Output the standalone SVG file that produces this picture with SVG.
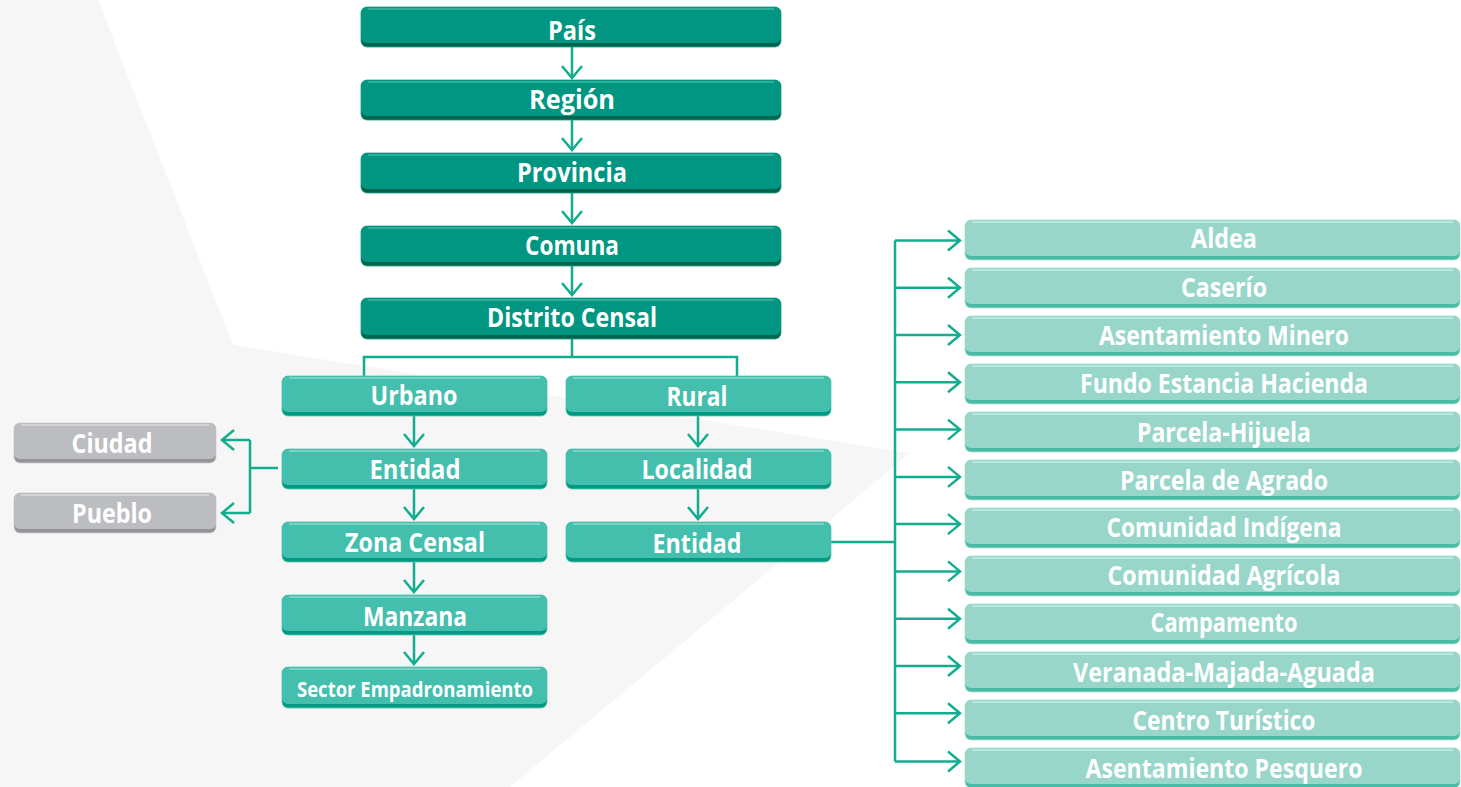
<svg xmlns="http://www.w3.org/2000/svg" width="1461" height="787" viewBox="0 0 1461 787">
<defs>
<style>
.bg{stroke-width:0.8}
.d .bg{fill:#00654f;stroke:#1f9f88}
.d .fg{fill:#009682}
.d .hl{stroke:#3fb9a2}
.m .bg{fill:#009a82;stroke:#5cc8b5}
.m .fg{fill:#44bead}
.m .hl{stroke:#8ed9cb}
.l .bg{fill:#48bba6;stroke:#b4e3d9}
.l .fg{fill:#98d6ca}
.l .hl{stroke:#c6ece4}
.g .bg{fill:#949598;stroke:#cfcfd1}
.g .fg{fill:#bcbdc0}
.g .hl{stroke:#dcdcde}
.hl{stroke-width:1.6;fill:none}
.t{font-family:"Open Sans","Liberation Sans",sans-serif;font-weight:700;font-size:26px;fill:#ffffff;text-anchor:middle}
.s{font-size:20.5px}
.c{fill:none;stroke:#12ad8f;stroke-width:2.5}
</style>
<marker id="ah" markerUnits="userSpaceOnUse" markerWidth="30" markerHeight="30" viewBox="-15 -15 30 30" refX="0" refY="0" orient="auto" overflow="visible">
<path d="M-12,-10 L0,0 L-12,10" fill="none" stroke="#12ad8f" stroke-width="2.5"/>
</marker>
</defs>
<rect x="0" y="0" width="1461" height="787" fill="#ffffff"/>
<polygon points="0,0 98,0 233,345 910,453 510,787 0,787" fill="#f6f6f6"/>

<g id="connectors">
<path class="c" d="M572,47 V78" marker-end="url(#ah)"/>
<path class="c" d="M572,120 V150" marker-end="url(#ah)"/>
<path class="c" d="M572,193 V223" marker-end="url(#ah)"/>
<path class="c" d="M572,265 V295" marker-end="url(#ah)"/>
<path class="c" d="M572,339 V357 M364,377 V357 H737 V377"/>
<path class="c" d="M414,416 V446" marker-end="url(#ah)"/>
<path class="c" d="M414,489 V519" marker-end="url(#ah)"/>
<path class="c" d="M414,562 V592" marker-end="url(#ah)"/>
<path class="c" d="M414,635 V664" marker-end="url(#ah)"/>
<path class="c" d="M698,416 V446" marker-end="url(#ah)"/>
<path class="c" d="M698,489 V519" marker-end="url(#ah)"/>
<path class="c" d="M278,468 H250 M250,440 V513"/>
<path class="c" d="M250,440 H222" marker-end="url(#ah)"/>
<path class="c" d="M250,513 H222" marker-end="url(#ah)"/>
<path class="c" d="M831,542 H895 M895,240.5 V761.5"/>
<path class="c" d="M895,240.5 H960" marker-end="url(#ah)"/>
<path class="c" d="M895,287.8 H960" marker-end="url(#ah)"/>
<path class="c" d="M895,335 H960" marker-end="url(#ah)"/>
<path class="c" d="M895,382.3 H960" marker-end="url(#ah)"/>
<path class="c" d="M895,429.6 H960" marker-end="url(#ah)"/>
<path class="c" d="M895,476.9 H960" marker-end="url(#ah)"/>
<path class="c" d="M895,524.1 H960" marker-end="url(#ah)"/>
<path class="c" d="M895,571.4 H960" marker-end="url(#ah)"/>
<path class="c" d="M895,618.7 H960" marker-end="url(#ah)"/>
<path class="c" d="M895,666 H960" marker-end="url(#ah)"/>
<path class="c" d="M895,713.2 H960" marker-end="url(#ah)"/>
<path class="c" d="M895,761.5 H960" marker-end="url(#ah)"/>
</g>

<g id="pais" class="d"><rect class="bg" x="361" y="7" width="420" height="40" rx="6"/><rect class="fg" x="361" y="7" width="420" height="36" rx="6"/><line class="hl" x1="368" y1="9" x2="774" y2="9"/><text class="t" x="572" y="40" textLength="48" lengthAdjust="spacingAndGlyphs">País</text></g>
<g id="region" class="d"><rect class="bg" x="361" y="80" width="420" height="40" rx="6"/><rect class="fg" x="361" y="80" width="420" height="36" rx="6"/><line class="hl" x1="368" y1="82" x2="774" y2="82"/><text class="t" x="572" y="109" textLength="86" lengthAdjust="spacingAndGlyphs">Región</text></g>
<g id="provincia" class="d"><rect class="bg" x="361" y="153" width="420" height="40" rx="6"/><rect class="fg" x="361" y="153" width="420" height="36" rx="6"/><line class="hl" x1="368" y1="155" x2="774" y2="155"/><text class="t" x="572" y="182" textLength="110" lengthAdjust="spacingAndGlyphs">Provincia</text></g>
<g id="comuna" class="d"><rect class="bg" x="361" y="226" width="420" height="40" rx="6"/><rect class="fg" x="361" y="226" width="420" height="36" rx="6"/><line class="hl" x1="368" y1="228" x2="774" y2="228"/><text class="t" x="572" y="255" textLength="94" lengthAdjust="spacingAndGlyphs">Comuna</text></g>
<g id="distrito" class="d"><rect class="bg" x="361" y="298" width="420" height="41" rx="6"/><rect class="fg" x="361" y="298" width="420" height="37" rx="6"/><line class="hl" x1="368" y1="300" x2="774" y2="300"/><text class="t" x="572" y="327" textLength="170" lengthAdjust="spacingAndGlyphs">Distrito Censal</text></g>

<g id="urbano" class="m"><rect class="bg" x="282" y="376" width="265" height="40" rx="6"/><rect class="fg" x="282" y="376" width="265" height="36" rx="6"/><line class="hl" x1="289" y1="378" x2="540" y2="378"/><text class="t" x="414" y="405" textLength="87" lengthAdjust="spacingAndGlyphs">Urbano</text></g>
<g id="entidad-urbano" class="m"><rect class="bg" x="282" y="449" width="265" height="40" rx="6"/><rect class="fg" x="282" y="449" width="265" height="36" rx="6"/><line class="hl" x1="289" y1="451" x2="540" y2="451"/><text class="t" x="415" y="479" textLength="91" lengthAdjust="spacingAndGlyphs">Entidad</text></g>
<g id="zona" class="m"><rect class="bg" x="282" y="522" width="265" height="40" rx="6"/><rect class="fg" x="282" y="522" width="265" height="36" rx="6"/><line class="hl" x1="289" y1="524" x2="540" y2="524"/><text class="t" x="415" y="552" textLength="140" lengthAdjust="spacingAndGlyphs">Zona Censal</text></g>
<g id="manzana" class="m"><rect class="bg" x="282" y="595" width="265" height="40" rx="6"/><rect class="fg" x="282" y="595" width="265" height="36" rx="6"/><line class="hl" x1="289" y1="597" x2="540" y2="597"/><text class="t" x="415" y="626" textLength="104" lengthAdjust="spacingAndGlyphs">Manzana</text></g>
<g id="sector" class="m"><rect class="bg" x="282" y="667" width="265" height="41" rx="6"/><rect class="fg" x="282" y="667" width="265" height="37" rx="6"/><line class="hl" x1="289" y1="669" x2="540" y2="669"/><text class="t s" x="415" y="697" textLength="236" lengthAdjust="spacingAndGlyphs">Sector Empadronamiento</text></g>

<g id="rural" class="m"><rect class="bg" x="566" y="376" width="265" height="40" rx="6"/><rect class="fg" x="566" y="376" width="265" height="36" rx="6"/><line class="hl" x1="573" y1="378" x2="824" y2="378"/><text class="t" x="697" y="406" textLength="61" lengthAdjust="spacingAndGlyphs">Rural</text></g>
<g id="localidad" class="m"><rect class="bg" x="566" y="449" width="265" height="40" rx="6"/><rect class="fg" x="566" y="449" width="265" height="36" rx="6"/><line class="hl" x1="573" y1="451" x2="824" y2="451"/><text class="t" x="697" y="479" textLength="111" lengthAdjust="spacingAndGlyphs">Localidad</text></g>
<g id="entidad-rural" class="m"><rect class="bg" x="566" y="522" width="265" height="40" rx="6"/><rect class="fg" x="566" y="522" width="265" height="36" rx="6"/><line class="hl" x1="573" y1="524" x2="824" y2="524"/><text class="t" x="697" y="553" textLength="89" lengthAdjust="spacingAndGlyphs">Entidad</text></g>

<g id="ciudad" class="g"><rect class="bg" x="14" y="423" width="202" height="40" rx="6"/><rect class="fg" x="14" y="423" width="202" height="36" rx="6"/><line class="hl" x1="21" y1="425" x2="209" y2="425"/><text class="t" x="112" y="453" textLength="81" lengthAdjust="spacingAndGlyphs">Ciudad</text></g>
<g id="pueblo" class="g"><rect class="bg" x="14" y="493" width="202" height="40" rx="6"/><rect class="fg" x="14" y="493" width="202" height="36" rx="6"/><line class="hl" x1="21" y1="495" x2="209" y2="495"/><text class="t" x="112" y="523" textLength="80" lengthAdjust="spacingAndGlyphs">Pueblo</text></g>

<g id="aldea" class="l"><rect class="bg" x="965" y="220" width="495" height="40" rx="6"/><rect class="fg" x="965" y="220" width="495" height="36" rx="6"/><line class="hl" x1="972" y1="222" x2="1453" y2="222"/><text class="t" x="1224" y="248" textLength="66" lengthAdjust="spacingAndGlyphs">Aldea</text></g>
<g id="caserio" class="l"><rect class="bg" x="965" y="268" width="495" height="40" rx="6"/><rect class="fg" x="965" y="268" width="495" height="36" rx="6"/><line class="hl" x1="972" y1="270" x2="1453" y2="270"/><text class="t" x="1224" y="297" textLength="86" lengthAdjust="spacingAndGlyphs">Caserío</text></g>
<g id="asentamiento-minero" class="l"><rect class="bg" x="965" y="316" width="495" height="40" rx="6"/><rect class="fg" x="965" y="316" width="495" height="36" rx="6"/><line class="hl" x1="972" y1="318" x2="1453" y2="318"/><text class="t" x="1224" y="345" textLength="250" lengthAdjust="spacingAndGlyphs">Asentamiento Minero</text></g>
<g id="fundo" class="l"><rect class="bg" x="965" y="364" width="495" height="40" rx="6"/><rect class="fg" x="965" y="364" width="495" height="36" rx="6"/><line class="hl" x1="972" y1="366" x2="1453" y2="366"/><text class="t" x="1224" y="393" textLength="288" lengthAdjust="spacingAndGlyphs">Fundo Estancia Hacienda</text></g>
<g id="parcela-hijuela" class="l"><rect class="bg" x="965" y="412" width="495" height="40" rx="6"/><rect class="fg" x="965" y="412" width="495" height="36" rx="6"/><line class="hl" x1="972" y1="414" x2="1453" y2="414"/><text class="t" x="1224" y="442" textLength="174" lengthAdjust="spacingAndGlyphs">Parcela-Hijuela</text></g>
<g id="parcela-agrado" class="l"><rect class="bg" x="965" y="460" width="495" height="40" rx="6"/><rect class="fg" x="965" y="460" width="495" height="36" rx="6"/><line class="hl" x1="972" y1="462" x2="1453" y2="462"/><text class="t" x="1224" y="490" textLength="208" lengthAdjust="spacingAndGlyphs">Parcela de Agrado</text></g>
<g id="comunidad-indigena" class="l"><rect class="bg" x="965" y="508" width="495" height="40" rx="6"/><rect class="fg" x="965" y="508" width="495" height="36" rx="6"/><line class="hl" x1="972" y1="510" x2="1453" y2="510"/><text class="t" x="1224" y="537" textLength="235" lengthAdjust="spacingAndGlyphs">Comunidad Indígena</text></g>
<g id="comunidad-agricola" class="l"><rect class="bg" x="965" y="556" width="495" height="40" rx="6"/><rect class="fg" x="965" y="556" width="495" height="36" rx="6"/><line class="hl" x1="972" y1="558" x2="1453" y2="558"/><text class="t" x="1224" y="585" textLength="233" lengthAdjust="spacingAndGlyphs">Comunidad Agrícola</text></g>
<g id="campamento" class="l"><rect class="bg" x="965" y="604" width="495" height="40" rx="6"/><rect class="fg" x="965" y="604" width="495" height="36" rx="6"/><line class="hl" x1="972" y1="606" x2="1453" y2="606"/><text class="t" x="1224" y="632" textLength="147" lengthAdjust="spacingAndGlyphs">Campamento</text></g>
<g id="veranada" class="l"><rect class="bg" x="965" y="652" width="495" height="40" rx="6"/><rect class="fg" x="965" y="652" width="495" height="36" rx="6"/><line class="hl" x1="972" y1="654" x2="1453" y2="654"/><text class="t" x="1224" y="682" textLength="302" lengthAdjust="spacingAndGlyphs">Veranada-Majada-Aguada</text></g>
<g id="centro-turistico" class="l"><rect class="bg" x="965" y="700" width="495" height="40" rx="6"/><rect class="fg" x="965" y="700" width="495" height="36" rx="6"/><line class="hl" x1="972" y1="702" x2="1453" y2="702"/><text class="t" x="1224" y="730" textLength="183" lengthAdjust="spacingAndGlyphs">Centro Turístico</text></g>
<g id="asentamiento-pesquero" class="l"><rect class="bg" x="965" y="748" width="495" height="40" rx="6"/><rect class="fg" x="965" y="748" width="495" height="36" rx="6"/><line class="hl" x1="972" y1="750" x2="1453" y2="750"/><text class="t" x="1224" y="778" textLength="277" lengthAdjust="spacingAndGlyphs">Asentamiento Pesquero</text></g>
</svg>
